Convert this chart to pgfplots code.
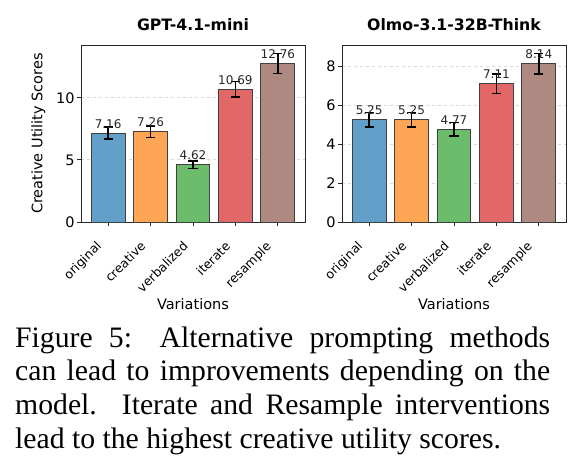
\documentclass[border=0pt]{standalone}
\usepackage{pgfplots}
\pgfplotsset{compat=1.18}
\usepackage{fontspec}
\setmainfont{Liberation Serif}
\newfontfamily\dv{DejaVu Sans}
\definecolor{cblue}{RGB}{98,160,202}
\definecolor{corange}{RGB}{255,165,86}
\definecolor{cgreen}{RGB}{107,188,107}
\definecolor{cred}{RGB}{226,104,104}
\definecolor{cbrown}{RGB}{174,137,129}
\newcommand{\rl}[1]{\rotatebox{45}{#1}}
\pgfplotsset{
  panel/.style={
    scale only axis, width=224pt, height=177pt, anchor=south west,
    xmin=-0.64, xmax=4.64, ymin=0,
    xtick={0,1,2,3,4},
    xticklabels={\rl{original},\rl{creative},\rl{verbalized},\rl{iterate},\rl{resample}},
    xticklabel style={anchor=north east, inner sep=0pt, xshift=-4pt, yshift=-14pt, font=\dv\fontsize{12.5}{15}\selectfont},
    yticklabel style={font=\dv\fontsize{14.5}{17}\selectfont, inner sep=2pt},
    /pgf/number format/assume math mode=true,
    tick align=outside, major tick length=4.2pt,
    tick style={black!85, line width=0.9pt},
    xtick pos=bottom, ytick pos=left,
    axis line style={black!85, line width=1pt},
    ymajorgrids, grid style={dashed, black!15, line width=0.8pt},
    ybar, bar width=0.8, /pgf/bar shift=0pt,
    nodes near coords={\pgfmathprintnumber[fixed,zerofill,precision=2]{\pgfplotspointmeta}},
    nodes near coords style={font=\dv\fontsize{12}{14}\selectfont, anchor=base, yshift=5pt, text=black!85, inner sep=0pt},
    error bars/y dir=both, error bars/y explicit,
    error bars/error bar style={line width=1.6pt, black},
    error bars/error mark options={rotate=90, mark size=4.6pt, line width=1.6pt, black},
    title style={at={(axis description cs:0.5,1)}, anchor=base, yshift=8.3pt, font=\dv\bfseries\fontsize{15.7}{18}\selectfont},
    xlabel style={at={(axis description cs:0.5,0)}, anchor=base, yshift=-87pt, font=\dv\fontsize{14.5}{17}\selectfont},
    ylabel style={at={(axis description cs:-0.19,0.5)}, anchor=center, font=\dv\fontsize{14.5}{17}\selectfont},
    xlabel={Variations},
  },
  barstyle/.style={fill=#1, draw=black!75, line width=1pt},
}
\begin{document}
\begin{tikzpicture}
\path[use as bounding box] (0,0) rectangle (587pt,-469pt);
\begin{axis}[panel, at={(81pt,-222pt)}, ymax=14.25, ytick={0,5,10},
  title={GPT-4.1-mini}, ylabel={Creative Utility Scores}]
\addplot[barstyle=cblue] coordinates {(0,7.16) +- (0,0.47)};
\addplot[barstyle=corange] coordinates {(1,7.26) +- (0,0.45)};
\addplot[barstyle=cgreen] coordinates {(2,4.62) +- (0,0.30)};
\addplot[barstyle=cred] coordinates {(3,10.69) +- (0,0.62)};
\addplot[barstyle=cbrown] coordinates {(4,12.76) +- (0,0.80)};
\end{axis}
\begin{axis}[panel, at={(342pt,-222pt)}, ymax=9.10, ytick={0,2,4,6,8},
  title={Olmo-3.1-32B-Think}]
\addplot[barstyle=cblue] coordinates {(0,5.25) +- (0,0.37)};
\addplot[barstyle=corange] coordinates {(1,5.25) +- (0,0.37)};
\addplot[barstyle=cgreen] coordinates {(2,4.77) +- (0,0.34)};
\addplot[barstyle=cred] coordinates {(3,7.11) +- (0,0.50)};
\addplot[barstyle=cbrown] coordinates {(4,8.14) +- (0,0.53)};
\end{axis}
\node[anchor=base west, inner sep=0pt, text width=535pt, align=justify,
  font=\fontsize{29.7}{33.7}\selectfont] at (15pt,-347pt)
  {Figure 5: Alternative prompting methods\linebreak
   can lead to improvements depending on the\linebreak
   model. Iterate and Resample interventions\linebreak
   lead to the highest creative utility scores.};
\end{tikzpicture}
\end{document}
